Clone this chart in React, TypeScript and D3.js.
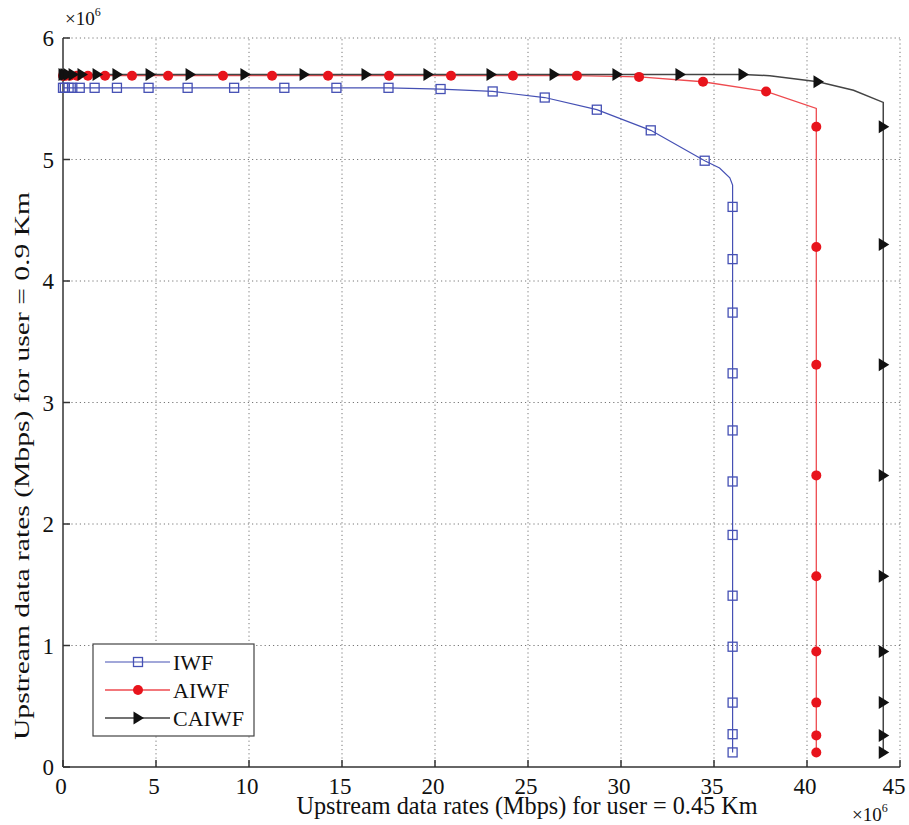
import React from 'react';
import * as d3 from 'd3';

// x ticks / y ticks (values in units of 10^6)
const xTicks = [0, 5, 10, 15, 20, 25, 30, 35, 40, 45];
const yTicks = [0, 1, 2, 3, 4, 5, 6];

// IWF - line through the points, plus marker positions
const iwfLineX = [0, 17.5, 20.3, 23.1, 25.9, 28.7, 31.6, 34.5, 35.3, 35.85, 36.0, 36.0];
const iwfLineY = [5.59, 5.59, 5.58, 5.56, 5.51, 5.41, 5.24, 4.99, 4.93, 4.85, 4.79, 0.12];
const iwfMarkX = [0, 0.1, 0.3, 0.5, 0.9, 1.7, 2.9, 4.6, 6.7, 9.2, 11.9, 14.7, 17.5, 20.3, 23.1, 25.9, 28.7, 31.6, 34.5,
  36, 36, 36, 36, 36, 36, 36, 36, 36, 36, 36, 36];
const iwfMarkY = [5.59, 5.59, 5.59, 5.59, 5.59, 5.59, 5.59, 5.59, 5.59, 5.59, 5.59, 5.59, 5.59, 5.58, 5.56, 5.51, 5.41, 5.24, 4.99,
  4.61, 4.18, 3.74, 3.24, 2.77, 2.35, 1.91, 1.41, 0.99, 0.53, 0.27, 0.12];

// AIWF
const aiwfLineX = [0, 27.6, 31.0, 34.4, 37.8, 40.5, 40.5];
const aiwfLineY = [5.69, 5.69, 5.68, 5.64, 5.56, 5.42, 0.12];
const aiwfMarkX = [0, 0.05, 0.16, 0.38, 0.75, 1.34, 2.26, 3.71, 5.65, 8.6, 11.24, 14.25, 17.53, 20.86, 24.19, 27.63, 30.97, 34.41, 37.8,
  40.5, 40.5, 40.5, 40.5, 40.5, 40.5, 40.5, 40.5, 40.5];
const aiwfMarkY = [5.69, 5.69, 5.69, 5.69, 5.69, 5.69, 5.69, 5.69, 5.69, 5.69, 5.69, 5.69, 5.69, 5.69, 5.69, 5.69, 5.68, 5.64, 5.56,
  5.27, 4.28, 3.31, 2.40, 1.57, 0.95, 0.53, 0.26, 0.12];

// CAIWF
const caiwfLineX = [0, 36.56, 38.0, 40.59, 42.5, 44.1, 44.1];
const caiwfLineY = [5.70, 5.70, 5.69, 5.64, 5.57, 5.47, 0.12];
const caiwfMarkX = [0, 0.11, 0.27, 0.54, 1.02, 1.83, 2.9, 4.68, 6.83, 9.78, 12.96, 16.29, 19.62, 23.01, 26.4, 29.78, 33.17, 36.56, 40.59,
  44.1, 44.1, 44.1, 44.1, 44.1, 44.1, 44.1, 44.1, 44.1];
const caiwfMarkY = [5.70, 5.70, 5.70, 5.70, 5.70, 5.70, 5.70, 5.70, 5.70, 5.70, 5.70, 5.70, 5.70, 5.70, 5.70, 5.70, 5.70, 5.70, 5.64,
  5.27, 4.30, 3.31, 2.40, 1.57, 0.95, 0.53, 0.26, 0.12];

const legendLabels = ['IWF', 'AIWF', 'CAIWF'];

const BLUE = '#4550b4';
const RED = '#e8141c';
const BLACK = '#111';
const FONT = '"Liberation Serif", "Times New Roman", serif';

const width = 909;
const height = 825;
const margin = { top: 38, right: 9, bottom: 58, left: 63 };

const zip = (xs: number[], ys: number[]) => xs.map((x, i) => [x, ys[i]] as [number, number]);

function Square({ cx, cy }: { cx: number; cy: number }) {
  return <rect x={cx - 4.5} y={cy - 4.5} width={9} height={9} fill="none" stroke={BLUE} strokeWidth={1.3} />;
}
function Dot({ cx, cy }: { cx: number; cy: number }) {
  return <circle cx={cx} cy={cy} r={5} fill={RED} />;
}
function Tri({ cx, cy }: { cx: number; cy: number }) {
  return <path d={`M${cx - 4.5},${cy - 6.5} L${cx + 6},${cy} L${cx - 4.5},${cy + 6.5} Z`} fill={BLACK} />;
}

export default function App() {
  const x = d3.scaleLinear().domain([0, 45]).range([margin.left, width - margin.right]);
  const y = d3.scaleLinear().domain([0, 6]).range([height - margin.bottom, margin.top]);
  const line = d3.line<[number, number]>().x(d => x(d[0])).y(d => y(d[1]));

  const series = [
    { name: 'IWF', color: BLUE, w: 1.2, path: line(zip(iwfLineX, iwfLineY)), marks: zip(iwfMarkX, iwfMarkY), M: Square },
    { name: 'AIWF', color: '#ee4a4f', w: 1.3, path: line(zip(aiwfLineX, aiwfLineY)), marks: zip(aiwfMarkX, aiwfMarkY), M: Dot },
    { name: 'CAIWF', color: '#444', w: 1.5, path: line(zip(caiwfLineX, caiwfLineY)), marks: zip(caiwfMarkX, caiwfMarkY), M: Tri },
  ];

  const x0 = x(0), x1 = x(45), y0 = y(0), y1 = y(6);
  const legend = { x: 93, y: 644, w: 161, h: 92 };

  return (
    <svg width={width} height={height} style={{ position: 'absolute', left: 0, top: 0, background: '#fff' }} fontFamily={FONT}>
      {/* grid */}
      <g stroke="#777" strokeWidth={1} strokeDasharray="1.2,3">
        {xTicks.slice(1).map(t => <line key={'gx' + t} x1={x(t)} x2={x(t)} y1={y0} y2={y1} />)}
        {yTicks.slice(1).map(t => <line key={'gy' + t} x1={x0} x2={x1} y1={y(t)} y2={y(t)} />)}
      </g>
      {/* axes */}
      <g stroke="#333" strokeWidth={1.5}>
        <line x1={x0} x2={x0} y1={y0} y2={y1} />
        <line x1={x0} x2={x1} y1={y0} y2={y0} />
        {xTicks.map(t => <line key={'tx' + t} x1={x(t)} x2={x(t)} y1={y0} y2={y0 - 7} />)}
        {yTicks.map(t => <line key={'ty' + t} x1={x0} x2={x0 + 7} y1={y(t)} y2={y(t)} />)}
      </g>
      <g fontSize={23} fill="#111">
        {xTicks.map(t => (
          <text key={'lx' + t} x={x(t) - (t === 45 ? 6 : 2)} y={y0 + 27} textAnchor="middle">{t}</text>
        ))}
        {yTicks.map(t => <text key={'ly' + t} x={x0 - 9} y={y(t) + 8} textAnchor="end">{t}</text>)}
      </g>
      {/* exponent labels */}
      <text x={65} y={25} fontSize={19} fill="#111">×10<tspan dy={-9} fontSize={12}>6</tspan></text>
      <text x={852} y={821} fontSize={19} fill="#111">×10<tspan dy={-9} fontSize={12}>6</tspan></text>
      {/* axis titles */}
      <text transform="translate(527,814) scale(1,1.12)" fontSize={22} textAnchor="middle" textLength={461}
        lengthAdjust="spacingAndGlyphs" fill="#111">
        Upstream data rates (Mbps) for user = 0.45 Km
      </text>
      <text transform="translate(29,466) rotate(-90)" fontSize={22} textAnchor="middle" textLength={548}
        lengthAdjust="spacingAndGlyphs" fill="#111">
        Upstream data rates (Mbps) for user = 0.9 Km
      </text>
      {/* lines */}
      {series.map(s => <path key={s.name} d={s.path || ''} fill="none" stroke={s.color} strokeWidth={s.w} />)}
      {/* markers */}
      {series.map(s => (
        <g key={'m' + s.name}>
          {s.marks.map((d, i) => <s.M key={i} cx={x(d[0])} cy={y(d[1])} />)}
        </g>
      ))}
      {/* legend */}
      <rect x={legend.x} y={legend.y} width={legend.w} height={legend.h} fill="#fff" stroke="#444" strokeWidth={1.2} />
      {series.map((s, i) => {
        const ly = legend.y + 18 + i * 28;
        return (
          <g key={'lg' + s.name}>
            <line x1={105} x2={170} y1={ly} y2={ly} stroke={s.color} strokeWidth={s.w} />
            <s.M cx={138} cy={ly} />
            <text x={173} y={ly + 8} fontSize={22} fill="#111">{legendLabels[i]}</text>
          </g>
        );
      })}
    </svg>
  );
}
